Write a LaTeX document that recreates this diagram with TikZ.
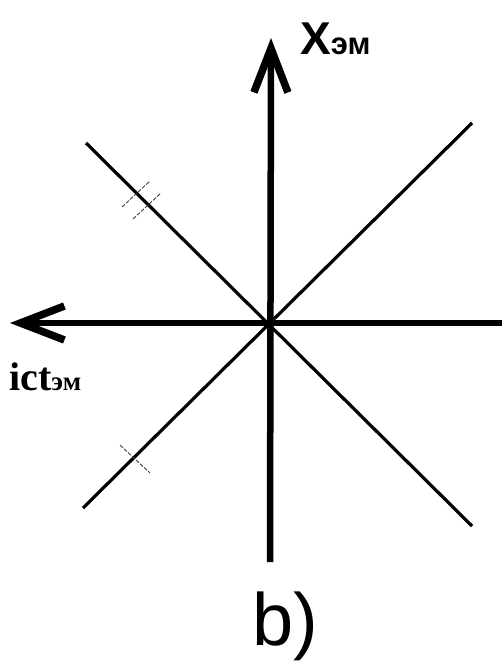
\documentclass[tikz,border=0pt]{standalone}
\usepackage{fontspec}
\newfontfamily\labelsans{Liberation Sans}
\newfontfamily\labelserif{Liberation Serif}
\usetikzlibrary{arrows.meta, calc}

\begin{document}
\begin{tikzpicture}[x=1pt, y=-1pt,
    axis/.style={line width=6.5pt, #1},
    axis/.default={black},
    arrowaxis/.style={axis, -{Straight Barb[length=44pt, width=34pt, line width=7.5pt]}},
    diag/.style={line width=3.2pt, black},
    tick/.style={line width=0.9pt, dash pattern=on 4pt off 1.5pt, black!75},
    axislabel/.style={anchor=base west, inner sep=0pt, #1},
    axislabel/.default={black}
]
\useasboundingbox (0,0) rectangle (502,661);

% === PUNTOS ===
\coordinate (o) at (270,323);
\coordinate (top) at (271,38);
\coordinate (bottom) at (270,562);
\coordinate (left) at (10,323);
\coordinate (right) at (502,323);
\coordinate (nw) at (86,143);
\coordinate (se) at (472,526);
\coordinate (sw) at (83,508);
\coordinate (ne) at (472,123);

% === DIAGONALES ===
\draw[diag] (nw) -- (se);
\draw[diag] (sw) -- (ne);

% === EJES ===
\draw[arrowaxis] (bottom) -- (top);
\draw[arrowaxis] (right) -- (left);

% === MARCAS ===
\coordinate (mark1) at (136,194);
\coordinate (mark2) at (147,206);
\coordinate (mark3) at (134,459);
\draw[tick] ($(mark1)+(-14,13)$) -- ($(mark1)+(14,-13)$);
\draw[tick] ($(mark2)+(-14,13)$) -- ($(mark2)+(14,-13)$);
\draw[tick] ($(mark3)+(-14,-14)$) -- ($(mark3)+(16,14)$);

% === ETIQUETAS ===
\node[axislabel, font=\labelsans\bfseries\fontsize{46}{46}\selectfont] (xlab) at (300,55) {X{\fontsize{31}{31}\selectfont эм}};
\node[axislabel, font=\labelserif\bfseries\fontsize{40}{40}\selectfont] (tlab) at (9,390) {ict{\fontsize{27}{27}\selectfont эм}};
\node[axislabel, font=\labelsans\fontsize{74}{74}\selectfont] (caption) at (252,645) {b)};

\end{tikzpicture}
\end{document}
